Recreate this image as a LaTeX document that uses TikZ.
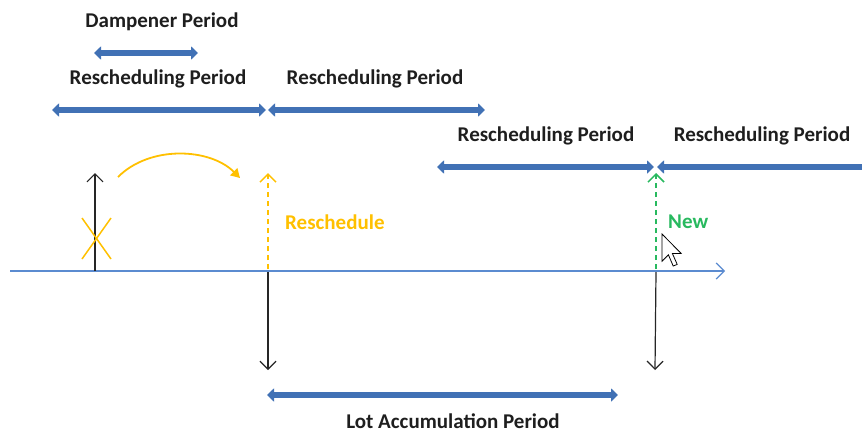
\documentclass[tikz,border=0pt]{standalone}
\usepackage{fontspec}
\setmainfont{Carlito}
\usetikzlibrary{arrows.meta}
\definecolor{pblue}{RGB}{65,113,181}
\definecolor{axblue}{RGB}{91,139,208}
\definecolor{ryellow}{RGB}{255,192,0}
\definecolor{ngreen}{RGB}{40,185,95}
\definecolor{tgray}{RGB}{30,30,30}
\tikzset{
  period/.style={draw=pblue, line width=6pt, {Triangle[length=7pt,width=13pt]}-{Triangle[length=7pt,width=13pt]}},
  periodL/.style={draw=pblue, line width=6pt, {Triangle[length=7pt,width=13pt]}-},
  lbl/.style={font=\fontsize{21}{23}\selectfont\bfseries, text=tgray, inner sep=0pt},
  evt/.style={draw=black!85, line width=1.2pt, -{Straight Barb[length=8pt,width=16pt,line width=1.2pt]}},
  dashevt/.style={line width=1.5pt, dash pattern=on 5pt off 4pt, -{Straight Barb[length=8pt,width=16pt,line width=1.5pt]}}
}
\begin{document}
\begin{tikzpicture}[x=1pt,y=-1pt]
\useasboundingbox (0,0) rectangle (862,432);
% labels
\node[lbl] (damp) at (162,22) {Dampener Period};
\node[lbl] (r1) at (158,79) {Rescheduling Period};
\node[lbl] (r2) at (375,79) {Rescheduling Period};
\node[lbl] (r3) at (546,136) {Rescheduling Period};
\node[lbl] (r4) at (762,136) {Rescheduling Period};
\node[lbl] (lot) at (453,421) {Lot Accumulation Period};
\node[lbl, text=ryellow, anchor=west] (resch) at (285,222) {Reschedule};
\node[lbl, text=ngreen, anchor=west] (new) at (668,222) {New};
% period arrows
\coordinate (d1) at (94,53); \coordinate (d2) at (198,53);
\draw[period] (d1) -- (d2);
\coordinate (p1a) at (52,110); \coordinate (p1b) at (266,110);
\coordinate (p2a) at (268,110); \coordinate (p2b) at (485,110);
\draw[period] (p1a) -- (p1b);
\draw[period] (p2a) -- (p2b);
\coordinate (p3a) at (437,167); \coordinate (p3b) at (654,167);
\coordinate (p4a) at (657,167); \coordinate (p4b) at (862,167);
\draw[period] (p3a) -- (p3b);
\draw[periodL] (p4a) -- (p4b);
\coordinate (la) at (267,395); \coordinate (lb) at (618,395);
\draw[period] (la) -- (lb);
% axis
\coordinate (ax0) at (10,271); \coordinate (ax1) at (725,271);
\draw[draw=axblue, line width=1.2pt, -{Straight Barb[length=8pt,width=16pt,line width=1.2pt]}] (ax0) -- (ax1);
% original event
\coordinate (e0) at (95,271); \coordinate (e0t) at (95,173);
\draw[evt] (e0) -- (e0t);
% X
\coordinate (xa) at (82,218); \coordinate (xb) at (111,259);
\coordinate (xc) at (111,218); \coordinate (xd) at (82,259);
\draw[ryellow, line width=1.5pt] (xa) -- (xb) (xc) -- (xd);
% curved arrow
\coordinate (ca) at (118,177); \coordinate (cb) at (240,178);
\draw[ryellow, line width=1.8pt, -{Triangle[length=9pt,width=10pt]}] (ca) .. controls (150,145) and (210,148) .. (cb);
% reschedule dashed
\coordinate (y0) at (268,269); \coordinate (y1) at (268,173);
\draw[ryellow, dashevt] (y0) -- (y1);
% new dashed
\coordinate (g0) at (656,269); \coordinate (g1) at (656,173);
\draw[ngreen, dashevt] (g0) -- (g1);
% down arrows
\coordinate (k0) at (268,272); \coordinate (k1) at (268,370);
\coordinate (m0) at (656,272); \coordinate (m1) at (655,370);
\draw[evt] (k0) -- (k1);
\draw[evt] (m0) -- (m1);
% cursor
\begin{scope}[shift={(662,234)}, scale=1.6]
\draw[fill=white, draw=black, line width=0.8pt, line join=miter]
  (0,0) -- (0,17) -- (4,13) -- (7,20) -- (9.5,19) -- (6.5,12.2) -- (12,12.2) -- cycle;
\end{scope}
\end{tikzpicture}
\end{document}
